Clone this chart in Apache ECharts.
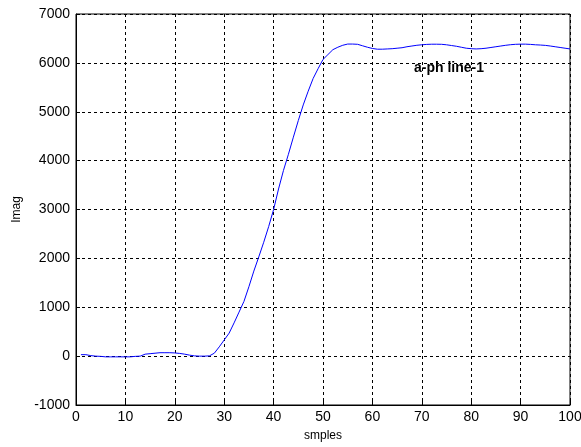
<!DOCTYPE html>
<html>
<head>
<meta charset="utf-8">
<script src="https://cdn.jsdelivr.net/npm/echarts@6/dist/echarts.min.js"></script>
<style>
  html, body { margin: 0; padding: 0; background: #fff; }
  #chart { width: 581px; height: 447px; }
</style>
</head>
<body>
<div id="chart"></div>
<script>
// Sample index (x) and current magnitude (y)
const samples = [
  1, 2, 3, 4, 5, 6, 7, 8, 9, 10,
  11, 12, 13, 14, 15, 16, 17, 18, 19, 20,
  21, 22, 23, 24, 25, 26, 27, 28, 29, 30,
  31, 32, 33, 34, 35, 36, 37, 38, 39, 40,
  41, 42, 43, 44, 45, 46, 47, 48, 49, 50,
  51, 52, 53, 54, 55, 56, 57, 58, 59, 60,
  61, 62, 63, 64, 65, 66, 67, 68, 69, 70,
  71, 72, 73, 74, 75, 76, 77, 78, 79, 80,
  81, 82, 83, 84, 85, 86, 87, 88, 89, 90,
  91, 92, 93, 94, 95, 96, 97, 98, 99, 100
];
const imag = [
  30, 30, 10, 0, -5, -15, -15, -15, -15, -15,
  -15, -5, 0, 40, 50, 60, 70, 70, 70, 65,
  55, 40, 20, 5, 0, 0, 5, 60, 190, 330,
  470, 680, 900, 1120, 1420, 1740, 2030, 2330, 2650, 3000,
  3420, 3800, 4130, 4480, 4820, 5140, 5420, 5680, 5880, 6070,
  6170, 6270, 6320, 6360, 6385, 6385, 6380, 6350, 6320, 6295,
  6280, 6280, 6285, 6290, 6300, 6310, 6330, 6345, 6360, 6370,
  6378, 6382, 6382, 6380, 6370, 6355, 6340, 6320, 6300, 6290,
  6285, 6290, 6300, 6315, 6330, 6345, 6360, 6372, 6380, 6383,
  6383, 6378, 6370, 6365, 6358, 6345, 6330, 6315, 6300, 6285
];
const xTicks = { min: 0, max: 100, step: 10 };
const yTicks = { min: -1000, max: 7000, step: 1000 };
const xName = 'smples';
const yName = 'Imag';
const traceLabel = 'a-ph line-1';
const traceLabelAt = [75.5, 5900];

const points = samples.map((s, i) => [s, imag[i]]);

const chart = echarts.init(document.getElementById('chart'), null, { renderer: 'canvas' });
const font = 'Liberation Sans, Arial, sans-serif';
const dashed = { color: '#000', width: 1, type: [3, 3] };

chart.setOption({
  animation: false,
  backgroundColor: '#fff',
  grid: {
    left: 76, right: 11, top: 14, bottom: 42,
    containLabel: false, outerBoundsMode: 'none',
    show: true, borderColor: '#000', borderWidth: 1, backgroundColor: '#fff'
  },
  xAxis: {
    type: 'value',
    min: xTicks.min, max: xTicks.max, interval: xTicks.step,
    name: xName, nameLocation: 'middle', nameGap: 25,
    nameTextStyle: { fontFamily: font, fontSize: 12, color: '#000' },
    axisLine: { show: true, onZero: false, lineStyle: { color: '#000' } },
    axisTick: { show: true, inside: true, length: 4, lineStyle: { color: '#000' } },
    axisLabel: { fontFamily: font, fontSize: 14, color: '#000', margin: 5 },
    splitLine: { show: true, lineStyle: dashed }
  },
  yAxis: {
    type: 'value',
    min: yTicks.min, max: yTicks.max, interval: yTicks.step,
    name: yName, nameLocation: 'middle', nameGap: 53, nameRotate: 90,
    nameTextStyle: { fontFamily: font, fontSize: 12, color: '#000' },
    axisLine: { show: true, onZero: false, lineStyle: { color: '#000' } },
    axisTick: { show: true, inside: true, length: 4, lineStyle: { color: '#000' } },
    axisLabel: {
      fontFamily: font, fontSize: 14, color: '#000', margin: 6,
      formatter: (v) => String(v)
    },
    splitLine: { show: true, lineStyle: dashed }
  },
  series: [{
    type: 'line',
    data: points,
    showSymbol: false,
    lineStyle: { color: '#0000ff', width: 1 },
    markPoint: {
      symbol: 'circle',
      symbolSize: 1,
      itemStyle: { color: 'rgba(0,0,0,0)' },
      data: [{
        coord: traceLabelAt,
        label: {
          show: true, position: 'inside', formatter: traceLabel,
          fontFamily: font, fontSize: 14, fontWeight: 'bold', color: '#000'
        }
      }]
    }
  }]
});
</script>
</body>
</html>
